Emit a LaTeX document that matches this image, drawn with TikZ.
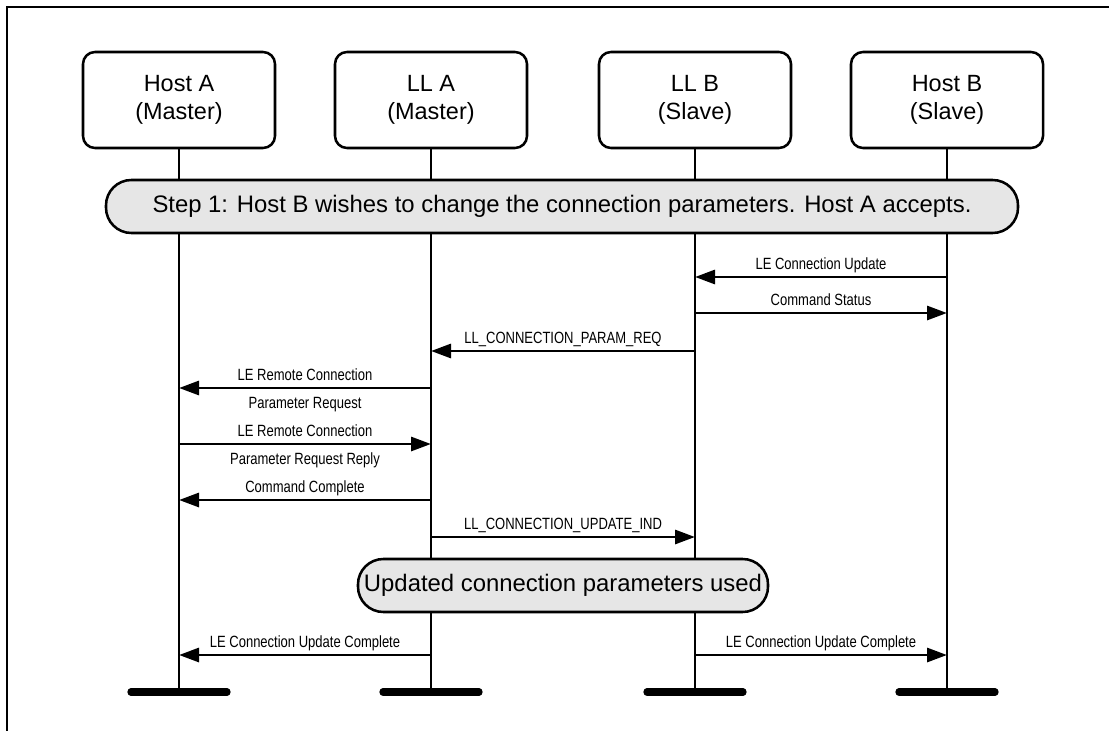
\documentclass[tikz,border=0pt]{standalone}
\usepackage{fontspec}
\setmainfont{Liberation Sans}
\newfontfamily\narrowfont[FakeStretch=0.8]{Liberation Sans}
\usetikzlibrary{arrows.meta, calc, positioning}
\definecolor{phasegray}{RGB}{230,230,230}
\definecolor{ink}{RGB}{0,0,0}

\tikzset{
  actor/.style={draw=ink, line width=1.9pt, rounded corners=9pt, align=center,
    minimum width=144pt, minimum height=72pt, inner sep=0pt,
    font=\fontsize{17.6}{20.5}\selectfont},
  phase/.style={draw=ink, fill=phasegray, line width=1.9pt, rounded corners=19pt,
    minimum height=39.75pt, inner sep=0pt, font=\fontsize{17.9}{20.5}\selectfont},
  lifeline/.style={draw=ink, line width=1.9pt},
  foot/.style={draw=ink, line width=5.5pt, line cap=round},
  msg/.style={draw=ink, line width=2.2pt, -{Triangle[length=15pt,width=10.5pt]}},
  above label/.style={font=\narrowfont\fontsize{12.2}{14}\selectfont, inner sep=0pt,
    anchor=base, yshift=5.5pt},
  below label/.style={font=\narrowfont\fontsize{12.2}{14}\selectfont, inner sep=0pt,
    anchor=base, yshift=-15pt}
}

\begin{document}
\begin{tikzpicture}[x=0.75pt, y=-0.75pt]
  \useasboundingbox (0,0) rectangle (1109,731);

  % ---------- frame ----------
  \draw[line width=2.2pt] (7,731) -- (7,7) -- (1109,7);

  % ---------- actors ----------
  \node[actor] (hostA) at (179,100) {Host A\\(Master)};
  \node[actor] (llA)   at (431,100) {LL A\\(Master)};
  \node[actor] (llB)   at (695,100) {LL B\\(Slave)};
  \node[actor] (hostB) at (947,100) {Host B\\(Slave)};

  % ---------- lifelines (ends at the feet) ----------
  \coordinate (hostAend) at (179,692);
  \coordinate (llAend)   at (431,692);
  \coordinate (llBend)   at (695,692);
  \coordinate (hostBend) at (947,692);
  \draw[lifeline] (hostA) -- (hostAend);
  \draw[lifeline] (llA)   -- (llAend);
  \draw[lifeline] (llB)   -- (llBend);
  \draw[lifeline] (hostB) -- (hostBend);
  \foreach \e in {hostAend, llAend, llBend, hostBend}
    \draw[foot] ([xshift=-36pt]\e) -- ([xshift=36pt]\e);

  % ---------- phases ----------
  \node[phase, minimum width=684pt] (step1) at (562,206.5)
    {Step 1: Host B wishes to change the connection parameters. Host A accepts.};
  \node[phase, minimum width=307.5pt] (updated) at (563,585.5)
    {Updated connection parameters used};

  % ---------- messages ----------
  \draw[msg] (hostB |- 0,277) -- node[above label] {LE Connection Update} (llB |- 0,277);
  \draw[msg] (llB |- 0,313) -- node[above label] {Command Status} (hostB |- 0,313);
  \draw[msg] (llB |- 0,351) -- node[above label] {LL\_CONNECTION\_PARAM\_REQ} (llA |- 0,351);
  \draw[msg] (llA |- 0,388) --
    node[above label] {LE Remote Connection}
    node[below label] {Parameter Request} (hostA |- 0,388);
  \draw[msg] (hostA |- 0,444) --
    node[above label] {LE Remote Connection}
    node[below label] {Parameter Request Reply} (llA |- 0,444);
  \draw[msg] (llA |- 0,500) -- node[above label] {Command Complete} (hostA |- 0,500);
  \draw[msg] (llA |- 0,537) -- node[above label] {LL\_CONNECTION\_UPDATE\_IND} (llB |- 0,537);
  \draw[msg] (llA |- 0,655) -- node[above label] {LE Connection Update Complete} (hostA |- 0,655);
  \draw[msg] (llB |- 0,655) -- node[above label] {LE Connection Update Complete} (hostB |- 0,655);

\end{tikzpicture}
\end{document}
